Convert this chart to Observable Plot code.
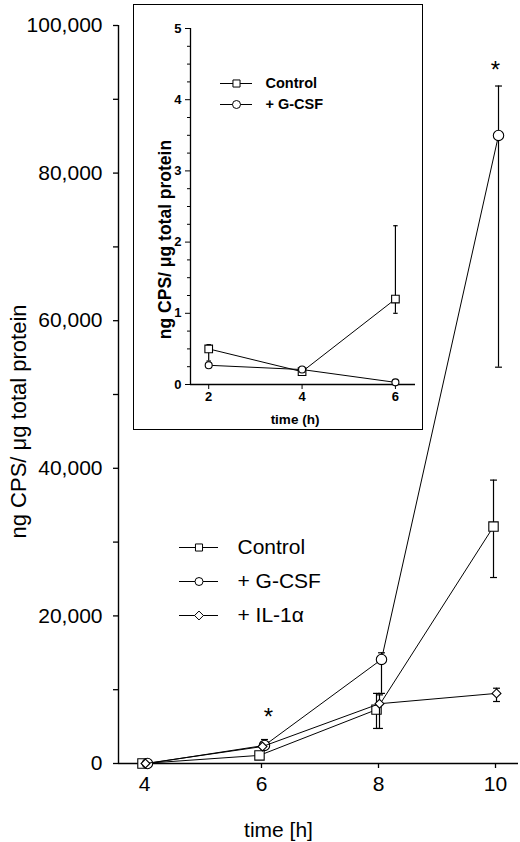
<!DOCTYPE html>
<html>
<head>
<meta charset="utf-8">
<script src="https://cdn.jsdelivr.net/npm/d3@7"></script>
<script src="https://cdn.jsdelivr.net/npm/@observablehq/plot@0.6"></script>
<style>
  body { margin: 0; background: #fff; }
  #chart { position: relative; width: 520px; height: 842px; }
  #chart > svg, #chart > div { position: absolute; }
  #inset { left: 133px; top: 4px; border: 1.5px solid #000; background: #fff; }
  #inset > svg { display: block; }
  #inset > .legend { position: absolute; }
</style>
</head>
<body>
<div id="chart"></div>
<script>
// main panel: ng CPS / ug total protein over time
const times = [4, 6, 8, 10]
const control = [0, 1100, 7300, 32100]
const controlLo = [null, null, 4750, 25200]
const controlHi = [null, null, 9500, 38400]
const gcsf = [0, 2450, 14100, 85100]
const gcsfLo = [null, 2450, 9500, 53700]
const gcsfHi = [null, 3250, 15000, 91800]
const il1a = [0, 2300, 8100, 9500]
const il1aLo = [null, null, 4750, 8400]
const il1aHi = [null, null, 9300, 10200]
const yTicks = [0, 20000, 40000, 60000, 80000, 100000]
const yMinor = [10000, 30000, 50000, 70000, 90000]
const stars = [{x: 6.12, y: 6900}, {x: 10, y: 94600}]
const mainLegend = ['Control', '+ G-CSF', '+ IL-1α']

// inset: first hours
const insetTimes = [2, 4, 6]
const insetControl = [0.5, 0.18, 1.2]
const insetControlLo = [0.33, null, 1.0]
const insetControlHi = [0.56, null, 2.23]
const insetGcsf = [0.27, 0.21, 0.03]
const insetTicks = [0, 1, 2, 3, 4, 5]
const insetLegend = ['Control', '+ G-CSF']

const font = '"Liberation Sans", Arial, sans-serif'
const symbols = ['square', 'circle', 'diamond2']

// little horizontal bar used as error-bar cap
const cap = {
  draw(ctx, size) {
    const w = Math.sqrt(size) / 2
    ctx.moveTo(-w, 0)
    ctx.lineTo(w, 0)
  }
}

const rows = (xs, ys, lo, hi) =>
  xs.map((x, i) => ({x, y: ys[i], lo: lo ? lo[i] : null, hi: hi ? hi[i] : null}))

function seriesMarks(data, symbol, r, dx, capR) {
  const withErr = data.filter(d => d.lo != null || d.hi != null)
  return [
    Plot.line(data, {x: 'x', y: 'y', stroke: 'black', strokeWidth: 1, dx}),
    Plot.ruleX(withErr, {x: 'x', y1: d => d.lo ?? d.y, y2: d => d.hi ?? d.y, stroke: 'black', strokeWidth: 1.2, dx}),
    Plot.dot(data.filter(d => d.hi != null), {x: 'x', y: 'hi', symbol: cap, r: capR, stroke: 'black', strokeWidth: 1.2, dx}),
    Plot.dot(data.filter(d => d.lo != null), {x: 'x', y: 'lo', symbol: cap, r: capR, stroke: 'black', strokeWidth: 1.2, dx}),
    Plot.dot(data, {x: 'x', y: 'y', symbol, r, fill: 'white', stroke: 'black', strokeWidth: 1.1, dx})
  ]
}

const xDomain = [3.556, 10.393]

let chart = Plot.plot({
  width: 520,
  height: 842,
  marginLeft: 118,
  marginRight: 2,
  marginTop: 25,
  marginBottom: 79,
  x: {domain: xDomain},
  y: {domain: [0, 100000]},
  style: {fontFamily: font, background: 'white', color: 'black'},
  marks: [
    Plot.ruleY([0], {stroke: 'black', strokeWidth: 1.4}),
    Plot.ruleX([xDomain[0]], {stroke: 'black', strokeWidth: 1.4}),
    Plot.axisX({ticks: times, tickFormat: d => d, tickSize: 5, tickPadding: 8, fontSize: 21, label: null, strokeWidth: 1.3}),
    Plot.axisY({ticks: yTicks, tickFormat: d3.format(','), tickSize: 5, tickPadding: 11, fontSize: 21, label: null, strokeWidth: 1.3}),
    Plot.axisY({ticks: yMinor, tickFormat: () => '', tickSize: 5, label: null, strokeWidth: 1.3}),
    Plot.text(['ng CPS/ μg total protein'], {frameAnchor: 'left', textAnchor: 'middle', lineAnchor: 'middle', rotate: -90, dx: -100, dy: 27, fontSize: 22}),
    Plot.text(['time [h]'], {frameAnchor: 'bottom', textAnchor: 'middle', lineAnchor: 'middle', dx: -40, dy: 67, fontSize: 21}),
    ...seriesMarks(rows(times, control, controlLo, controlHi), 'square', 5.3, -2, 3.9),
    ...seriesMarks(rows(times, gcsf, gcsfLo, gcsfHi), 'circle', 5.2, 3, 3.9),
    ...seriesMarks(rows(times, il1a, il1aLo, il1aHi), 'diamond2', 4, 1, 3.9),
    Plot.text(stars, {x: 'x', y: 'y', text: () => '*', fontSize: 24, dy: 5})
  ]
})
d3.select('#chart').append(() => chart)

function legendPlot(labels, {width, height, top, gap, lineLen, textGap, fontSize, fontWeight, r}) {
  return Plot.plot({
    width, height, margin: 0,
    x: {domain: [0, 1], range: [0, lineLen], axis: null},
    y: {type: 'point', padding: 0, domain: labels, range: [top, top + gap * (labels.length - 1)], axis: null},
    style: {fontFamily: font, fontWeight, background: 'transparent', color: 'black', overflow: 'visible'},
    marks: [
      Plot.ruleY(labels, {y: d => d, x1: 0, x2: 1, stroke: 'black', strokeWidth: 1}),
      Plot.dot(labels, {x: 0.5, y: d => d, symbol: (d, i) => symbols[i], r, fill: 'white', stroke: 'black', strokeWidth: 1}),
      Plot.text(labels, {x: 1, y: d => d, text: d => d, textAnchor: 'start', dx: textGap, fontSize})
    ]
  })
}

let legend = legendPlot(mainLegend, {width: 220, height: 110, top: 17, gap: 34, lineLen: 39, textGap: 19, fontSize: 21, fontWeight: 'normal', r: 4})
d3.select(legend).style('left', '179px').style('top', '530px')
d3.select('#chart').append(() => legend)

// inset panel
const inset = d3.select('#chart').append('div').attr('id', 'inset')
const insetDomain = [1.61, 6.43]
let insetChart = Plot.plot({
  width: 288,
  height: 424,
  marginLeft: 56,
  marginRight: 7,
  marginTop: 23,
  marginBottom: 45,
  x: {domain: insetDomain},
  y: {domain: [0, 5]},
  style: {fontFamily: font, fontWeight: 'bold', background: 'white', color: 'black'},
  marks: [
    Plot.ruleY([0], {stroke: 'black', strokeWidth: 1.3}),
    Plot.ruleX([insetDomain[0]], {stroke: 'black', strokeWidth: 1.3}),
    Plot.axisX({ticks: insetTimes, tickFormat: d => d, tickSize: 5, tickPadding: 2, fontSize: 13, label: null}),
    Plot.axisY({ticks: insetTicks, tickFormat: d => d, tickSize: 5, tickPadding: 4, fontSize: 13, label: null}),
    Plot.axisY({ticks: d3.range(0.25, 5, 0.25).filter(v => v % 1 !== 0), tickFormat: () => '', tickSize: 3, label: null}),
    Plot.text(['ng CPS/ μg total protein'], {frameAnchor: 'left', textAnchor: 'middle', lineAnchor: 'middle', rotate: -90, dx: -25, dy: 33, fontSize: 17.5}),
    Plot.text(['time (h)'], {frameAnchor: 'bottom', textAnchor: 'middle', lineAnchor: 'middle', dx: -8, dy: 35, fontSize: 13.5}),
    ...seriesMarks(rows(insetTimes, insetControl, insetControlLo, insetControlHi), 'square', 4.3, 0, 2.5),
    ...seriesMarks(rows(insetTimes, insetGcsf), 'circle', 3.5, 0, 2.5)
  ]
})
inset.append(() => insetChart)

let insetLeg = legendPlot(insetLegend, {width: 160, height: 45, top: 10, gap: 21, lineLen: 32, textGap: 13, fontSize: 14.5, fontWeight: 'bold', r: 4})
d3.select(insetLeg).attr('class', 'legend').style('left', '85.5px').style('top', '67.5px')
inset.append(() => insetLeg)
</script>
</body>
</html>
